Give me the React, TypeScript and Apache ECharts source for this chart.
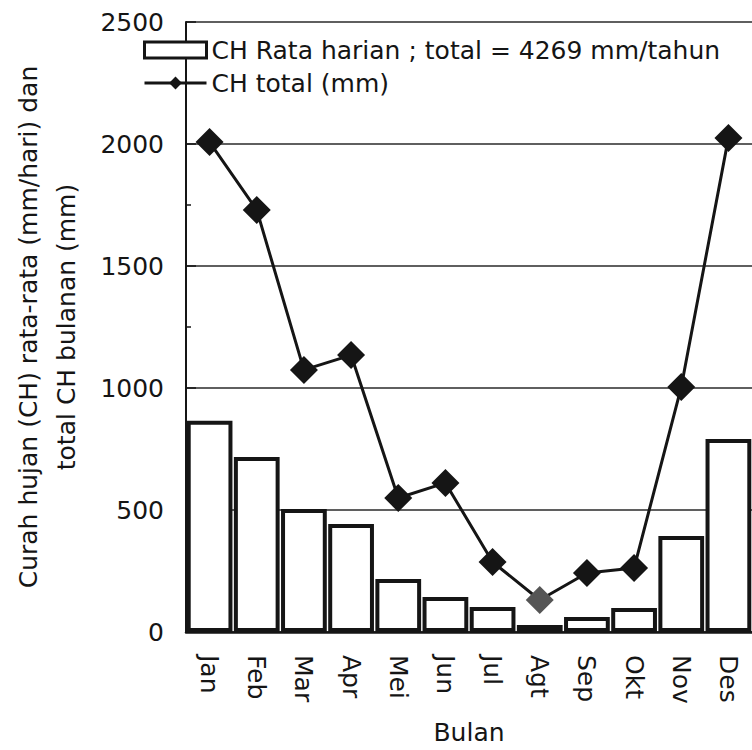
import React, { useEffect, useRef } from "react";
import * as echarts from "echarts";

const months = ["Jan", "Feb", "Mar", "Apr", "Mei", "Jun", "Jul", "Agt", "Sep", "Okt", "Nov", "Des"];
const dailyAvg = [866, 717, 504, 443, 217, 143, 102, 29, 61, 98, 393, 791];
const monthlyTotal = [2008, 1730, 1074, 1135, 549, 611, 287, 131, 242, 262, 1004, 2025];
const barName = "CH Rata harian ; total = 4269 mm/tahun";
const lineName = "CH total (mm)";
const yAxisTitle = "Curah hujan (CH) rata-rata (mm/hari) dan\ntotal CH bulanan (mm)";
const xAxisTitle = "Bulan";

const FONT = "DejaVu Sans";
const INK = "#151515";

export default function App() {
  const ref = useRef<HTMLDivElement>(null);
  useEffect(() => {
    if (!ref.current) return;
    const chart = echarts.init(ref.current, null, { renderer: "svg" });
    chart.setOption({
      animation: false,
      backgroundColor: "#ffffff",
      textStyle: { fontFamily: FONT, color: INK },
      grid: { left: 186, top: 22, width: 572, height: 610, containLabel: false },
      legend: {
        orient: "vertical",
        left: 143,
        top: 37,
        itemWidth: 62,
        itemHeight: 16,
        itemGap: 7,
        padding: 0,
        textStyle: { fontFamily: FONT, fontSize: 25, color: INK, lineHeight: 26 },
        data: [
          { name: barName, icon: "rect", itemStyle: { color: "#ffffff", borderColor: INK, borderWidth: 3 } },
          { name: lineName, lineStyle: { color: INK, width: 3 } },
        ],
      },
      xAxis: {
        type: "category",
        data: months,
        name: xAxisTitle,
        nameLocation: "middle",
        nameGap: 88,
        nameTextStyle: { fontFamily: FONT, fontSize: 25, color: INK },
        axisLine: { show: true, lineStyle: { color: INK, width: 2.5 } },
        axisTick: { show: false },
        axisLabel: { rotate: -90, margin: 23, fontFamily: FONT, fontSize: 25, color: INK },
      },
      yAxis: {
        type: "value",
        min: 0,
        max: 2500,
        interval: 500,
        name: yAxisTitle,
        nameLocation: "middle",
        nameRotate: 90,
        nameGap: 101,
        nameTextStyle: { fontFamily: FONT, fontSize: 25, color: INK, lineHeight: 38, align: "center" },
        axisLine: { show: true, lineStyle: { color: INK, width: 2 } },
        axisTick: { show: true, inside: true, length: 10, lineStyle: { color: INK, width: 1.5 } },
        minorTick: { show: true, splitNumber: 2, length: 5, lineStyle: { color: INK, width: 1.5 } },
        axisLabel: {
          margin: 22,
          fontFamily: FONT,
          fontSize: 25,
          color: INK,
          formatter: (v: number) => String(v),
        },
        splitLine: { show: true, lineStyle: { color: "#2a2a2a", width: 1.5 } },
      },
      series: [
        {
          name: barName,
          type: "bar",
          data: dailyAvg,
          barCategoryGap: "3%",
          itemStyle: { color: "#ffffff", borderColor: INK, borderWidth: 4 },
          z: 2,
        },
        {
          name: lineName,
          type: "line",
          data: monthlyTotal.map((v, i) =>
            months[i] === "Agt" ? { value: v, itemStyle: { color: "#555555" } } : v
          ),
          symbol: "diamond",
          symbolSize: 28,
          lineStyle: { color: INK, width: 3 },
          itemStyle: { color: INK },
          z: 3,
        },
      ],
    });
    return () => chart.dispose();
  }, []);
  return (
    <div
      ref={ref}
      style={{ position: "absolute", left: 0, top: 0, width: 752, height: 750, background: "#fff" }}
    />
  );
}
